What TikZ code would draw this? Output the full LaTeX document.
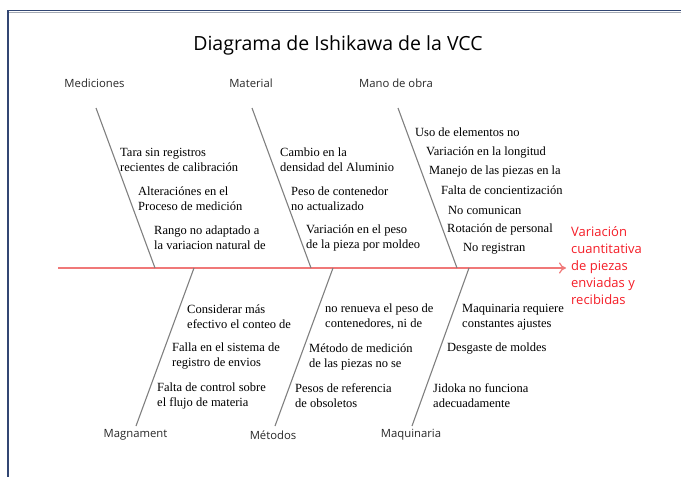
\documentclass[tikz,border=0pt]{standalone}
\usepackage{fontspec}
\setmainfont{Liberation Serif}
\newfontfamily\labelfont{Open Sans}
\usetikzlibrary{arrows.meta}
\definecolor{spinecol}{RGB}{240,120,120}
\definecolor{bonecol}{RGB}{128,128,128}
\definecolor{effcol}{RGB}{245,30,40}
\definecolor{framedark}{RGB}{50,70,115}
\definecolor{framegray}{RGB}{165,170,180}
\definecolor{labcol}{RGB}{40,40,40}
\begin{document}
\begin{tikzpicture}[x=1pt,y=-1pt,
  spine/.style={draw=spinecol, line width=1.4pt, -{To[length=7pt,width=11pt,line width=1.2pt]}},
  bone/.style={draw=bonecol, line width=1.1pt},
  catlabel/.style={font=\labelfont\fontsize{11.3}{13}\selectfont, text=labcol, inner sep=0pt},
  cause/.style={font=\fontsize{12.5}{15}\selectfont, align=left, anchor=west, inner sep=0pt},
  effecttext/.style={font=\labelfont\fontsize{13}{17}\selectfont, text=effcol, align=left, anchor=west, inner sep=0pt}]
\useasboundingbox (0,0) rectangle (681,477);
\fill[white] (0,0) rectangle (681,477);
% frame
\draw[framegray, line width=1.2pt] (9,12.6) -- (681,12.6);
\draw[framedark, line width=1.6pt] (7.5,10.6) -- (681,10.6);
\draw[framedark, line width=1.6pt] (8.2,10) -- (8.2,477);
% title
\node[font=\labelfont\fontsize{19.5}{23}\selectfont, inner sep=0pt] (title) at (338,45) {Diagrama de Ishikawa de la VCC};
% spine
\coordinate (tail) at (58,268);
\coordinate (head) at (566,268);
\draw[spine] (tail) -- (head);
% effect
\node[effecttext] (effect) at (571,266) {Variación\\cuantitativa\\de piezas\\enviadas y\\recibidas};
% bones top
\coordinate (b1t) at (96,108);  \coordinate (b1b) at (155,268);
\coordinate (b2t) at (252,108); \coordinate (b2b) at (311,268);
\coordinate (b3t) at (398,108); \coordinate (b3b) at (457,268);
% bones bottom
\coordinate (b4t) at (194,268); \coordinate (b4b) at (136,426);
\coordinate (b5t) at (333,268); \coordinate (b5b) at (275,426);
\coordinate (b6t) at (469,268); \coordinate (b6b) at (412,426);
\draw[bone] (b1t) -- (b1b);
\draw[bone] (b2t) -- (b2b);
\draw[bone] (b3t) -- (b3b);
\draw[bone] (b4t) -- (b4b);
\draw[bone] (b5t) -- (b5b);
\draw[bone] (b6t) -- (b6b);
% category labels
\node[catlabel] (lmed) at (94.5,83) {Mediciones};
\node[catlabel] (lmat) at (251,83) {Material};
\node[catlabel] (lmano) at (396,83) {Mano de obra};
\node[catlabel] (lmag) at (135.5,435) {Magnament};
\node[catlabel] (lmet) at (273,435) {Métodos};
\node[catlabel] (lmaq) at (411,435) {Maquinaria};
% Mediciones causes
\node[cause] (c11) at (120,159.5) {Tara sin registros\\recientes de calibración};
\node[cause] (c12) at (138,198.5) {Alteraciónes en el\\Proceso de medición};
\node[cause] (c13) at (154,237.5) {Rango no adaptado a\\la variacion natural de};
% Material causes
\node[cause] (c21) at (280,159.5) {Cambio en la\\densidad del Aluminio};
\node[cause] (c22) at (291,198.5) {Peso de contenedor\\no actualizado};
\node[cause] (c23) at (306,237.5) {Variación en el peso\\de la pieza por moldeo};
% Mano de obra causes
\node[cause] (c31) at (415,132) {Uso de elementos no};
\node[cause] (c32) at (426,152) {Variación en la longitud};
\node[cause] (c33) at (429,171) {Manejo de las piezas en la};
\node[cause] (c34) at (441,190) {Falta de concientización};
\node[cause] (c35) at (448,210) {No comunican};
\node[cause] (c36) at (447,229) {Rotación de personal};
\node[cause] (c37) at (463,249) {No registran};
% Magnament causes
\node[cause] (c41) at (187,317) {Considerar más\\efectivo el conteo de};
\node[cause] (c42) at (172,356.5) {Falla en el sistema de\\registro de envios};
\node[cause] (c43) at (157,395.5) {Falta de control sobre\\el flujo de materia};
% Metodos causes
\node[cause] (c51) at (325,317) {no renueva el peso de\\contenedores, ni de};
\node[cause] (c52) at (309,356.5) {Método de medición\\de las piezas no se};
\node[cause] (c53) at (295,395.5) {Pesos de referencia\\de obsoletos};
% Maquinaria causes
\node[cause] (c61) at (462,317) {Maquinaria requiere\\constantes ajustes};
\node[cause] (c62) at (447,349) {Desgaste de moldes};
\node[cause] (c63) at (433,395.5) {Jidoka no funciona\\adecuadamente};
\end{tikzpicture}
\end{document}
